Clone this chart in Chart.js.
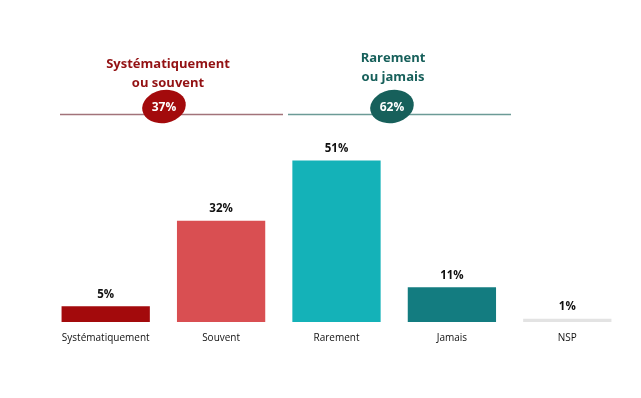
<!DOCTYPE html>
<html>
<head>
<meta charset="utf-8">
<script src="https://cdn.jsdelivr.net/npm/chart.js@4/dist/chart.umd.min.js"></script>
<style>
  html, body { margin: 0; padding: 0; background: #fff; }
  #wrap { width: 641px; height: 398px; position: relative; }
</style>
</head>
<body>
<div id="wrap"><canvas id="chart"></canvas></div>
<script>
const categories = ["Systématiquement", "Souvent", "Rarement", "Jamais", "NSP"];
const values = [5, 32, 51, 11, 1];
const valueLabels = ["5%", "32%", "51%", "11%", "1%"];
const barColors = ["#a30a0c", "#d94f52", "#14b2b8", "#137c80", "#e3e3e3"];
const groupTitles = [["Systématiquement", "ou souvent"], ["Rarement", "ou jamais"]];
const groupTotals = ["37%", "62%"];

const FONT = "'Open Sans', sans-serif";

// etiquettes au-dessus des barres
const valueLabelPlugin = {
    id: "valueLabels",
    afterDatasetsDraw(chart) {
        const ctx = chart.ctx;
        const meta = chart.getDatasetMeta(0);
        ctx.save();
        ctx.font = "bold 11.5px " + FONT;
        ctx.fillStyle = "#111";
        ctx.textAlign = "center";
        ctx.textBaseline = "bottom";
        meta.data.forEach((bar, i) => {
            ctx.fillText(valueLabels[i], bar.x, bar.y - 6);
        });
        ctx.restore();
    }
};

// en-têtes des regroupements
const headerPlugin = {
    id: "header",
    afterDraw(chart) {
        const ctx = chart.ctx;
        const groups = [
            { color: "#931113", fill: "#a30a0c", line: "#a2737a", x1: 60, x2: 283, cx: 168, ex: 164, ty: 64, ty2: 83 },
            { color: "#17605b", fill: "#17605b", line: "#6c9b96", x1: 288, x2: 511, cx: 393, ex: 392, ty: 58, ty2: 77 }
        ];
        ctx.save();
        groups.forEach((g, i) => {
            ctx.strokeStyle = g.line;
            ctx.lineWidth = 1.3;
            ctx.beginPath();
            ctx.moveTo(g.x1, 114.5);
            ctx.lineTo(g.x2, 114.5);
            ctx.stroke();

            ctx.fillStyle = g.color;
            ctx.font = "bold 13px " + FONT;
            ctx.textAlign = "center";
            ctx.textBaseline = "middle";
            ctx.fillText(groupTitles[i][0], g.cx, g.ty);
            ctx.fillText(groupTitles[i][1], g.cx, g.ty2);

            ctx.fillStyle = g.fill;
            ctx.beginPath();
            ctx.ellipse(g.ex, 106.5, 22, 16.5, -0.2, 0, Math.PI * 2);
            ctx.fill();
            ctx.fillStyle = "#fff";
            ctx.font = "bold 12px " + FONT;
            ctx.fillText(groupTotals[i], g.ex, 107.5);
        });
        ctx.restore();
    }
};

new Chart(document.getElementById("chart"), {
    type: "bar",
    data: {
        labels: categories,
        datasets: [{
            data: values,
            backgroundColor: barColors,
            borderWidth: 0,
            categoryPercentage: 1,
            barPercentage: 0.765
        }]
    },
    options: {
        responsive: true,
        maintainAspectRatio: false,
        animation: false,
        layout: { padding: { top: 132, left: 48, right: 16, bottom: 52 } },
        plugins: {
            legend: { display: false },
            tooltip: { enabled: false }
        },
        scales: {
            x: {
                grid: { display: false },
                border: { display: false },
                ticks: { color: "#111", font: { family: FONT, size: 10 }, padding: 2, maxRotation: 0 }
            },
            y: {
                display: false,
                min: 0,
                max: 60
            }
        }
    },
    plugins: [valueLabelPlugin, headerPlugin]
});
</script>
</body>
</html>
